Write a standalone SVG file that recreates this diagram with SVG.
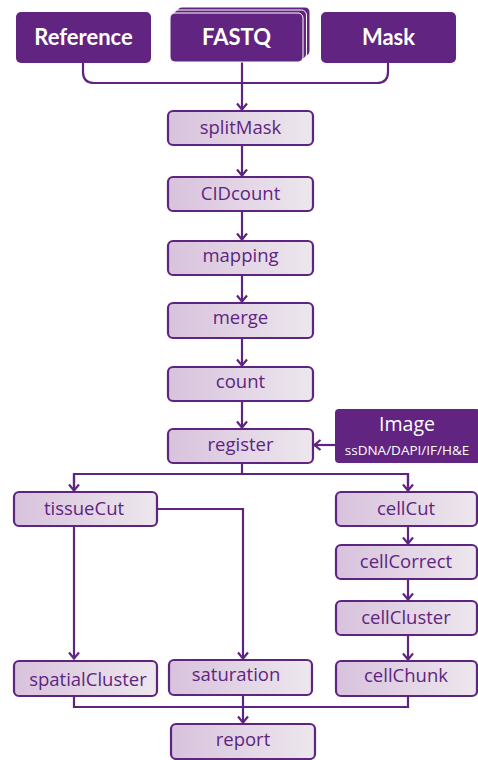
<svg xmlns="http://www.w3.org/2000/svg" width="478" height="760" viewBox="0 0 478 760">
<defs>
<linearGradient id="g" x1="0" y1="0" x2="1" y2="0">
<stop offset="0" stop-color="#d8c2dd"/>
<stop offset="1" stop-color="#ede7ed"/>
</linearGradient>
<marker id="a" viewBox="0 0 12 12" refX="11" refY="6" markerWidth="12" markerHeight="12" markerUnits="userSpaceOnUse" orient="auto">
<path d="M4.5,1 L10.5,6 L4.5,11" fill="none" stroke="#5e2580" stroke-width="2.2"/>
</marker>
<style>
.n rect{fill:url(#g);stroke:#5e2580;stroke-width:2.2}
.n text{font-family:"Open Sans","DejaVu Sans",sans-serif;font-size:18.5px;fill:#5e2580;text-anchor:middle}
.t rect{fill:#612481;stroke:none}
.t text{font-family:"Lato","Open Sans",sans-serif;font-weight:bold;font-size:22px;fill:#fff;text-anchor:middle}
.c path{fill:none;stroke:#5e2580;stroke-width:2.2}
</style>
</defs>
<g class="c" id="connectors">
<path d="M83,63 V72 Q83,83 94,83 H377 Q388,83 388,72 V63"/>
<path d="M242,62 V110" marker-end="url(#a)"/>
<path d="M242,145 V176" marker-end="url(#a)"/>
<path d="M242,211 V240" marker-end="url(#a)"/>
<path d="M242,275 V302" marker-end="url(#a)"/>
<path d="M242,338 V366" marker-end="url(#a)"/>
<path d="M242,401 V428" marker-end="url(#a)"/>
<path d="M335,445 H314" marker-end="url(#a)"/>
<path d="M242,463 V474"/>
<path d="M74,491 V474 H408 V491"/>
<path d="M74,474 V491" marker-end="url(#a)"/>
<path d="M408,474 V491" marker-end="url(#a)"/>
<path d="M74,526 V659" marker-end="url(#a)"/>
<path d="M157,509 H243 V659" marker-end="url(#a)"/>
<path d="M408,526 V544" marker-end="url(#a)"/>
<path d="M408,579 V600" marker-end="url(#a)"/>
<path d="M408,635 V660" marker-end="url(#a)"/>
<path d="M74,696 V707 H408 V696"/>
<path d="M243,695 V723" marker-end="url(#a)"/>
</g>
<g class="t" id="reference"><rect x="16" y="12" width="135" height="51" rx="5"/><text x="83.5" y="45">Reference</text></g>
<g class="t" id="fastq">
<rect x="177" y="7" width="133" height="49" rx="5" style="stroke:#fff;stroke-width:1"/>
<rect x="173.5" y="10" width="133" height="49" rx="5" style="stroke:#fff;stroke-width:1"/>
<rect x="170" y="13" width="133" height="49" rx="5" style="stroke:#fff;stroke-width:1"/>
<text x="236.5" y="45">FASTQ</text></g>
<g class="t" id="mask"><rect x="321" y="12" width="135" height="51" rx="5"/><text x="388.5" y="45">Mask</text></g>
<g class="n" id="splitMask"><rect x="168" y="111" width="145" height="34" rx="5"/><text x="240.5" y="134">splitMask</text></g>
<g class="n" id="CIDcount"><rect x="168" y="177" width="145" height="34" rx="5"/><text x="240.5" y="200">CIDcount</text></g>
<g class="n" id="mapping"><rect x="168" y="241" width="145" height="34" rx="5"/><text x="240.5" y="262">mapping</text></g>
<g class="n" id="merge"><rect x="168" y="303" width="145" height="35" rx="5"/><text x="240.5" y="324">merge</text></g>
<g class="n" id="count"><rect x="168" y="367" width="145" height="34" rx="5"/><text x="240.5" y="388">count</text></g>
<g class="n" id="register"><rect x="168" y="429" width="145" height="34" rx="5"/><text x="240.5" y="451">register</text></g>
<g id="image"><rect x="335" y="409" width="145" height="54" rx="4" fill="#612481"/>
<text x="407" y="431" font-family="Open Sans, sans-serif" font-size="19.5" fill="#fff" text-anchor="middle">Image</text>
<text x="407" y="455" font-family="Open Sans, sans-serif" font-size="13.5" fill="#fff" text-anchor="middle">ssDNA/DAPI/IF/H&amp;E</text></g>
<g class="n" id="tissueCut"><rect x="14" y="492" width="143" height="34" rx="5"/><text x="84" y="515">tissueCut</text></g>
<g class="n" id="cellCut"><rect x="336" y="492" width="141" height="34" rx="5"/><text x="406" y="515">cellCut</text></g>
<g class="n" id="cellCorrect"><rect x="336" y="545" width="141" height="34" rx="5"/><text x="406" y="568">cellCorrect</text></g>
<g class="n" id="cellCluster"><rect x="336" y="601" width="141" height="34" rx="5"/><text x="406" y="624">cellCluster</text></g>
<g class="n" id="spatialCluster"><rect x="14" y="661" width="143" height="35" rx="5"/><text x="88" y="686">spatialCluster</text></g>
<g class="n" id="saturation"><rect x="169" y="660" width="143" height="35" rx="5"/><text x="236" y="681">saturation</text></g>
<g class="n" id="cellChunk"><rect x="336" y="661" width="141" height="35" rx="5"/><text x="406" y="682">cellChunk</text></g>
<g class="n" id="report"><rect x="171" y="724" width="144" height="35" rx="5"/><text x="243" y="746">report</text></g>
</svg>
